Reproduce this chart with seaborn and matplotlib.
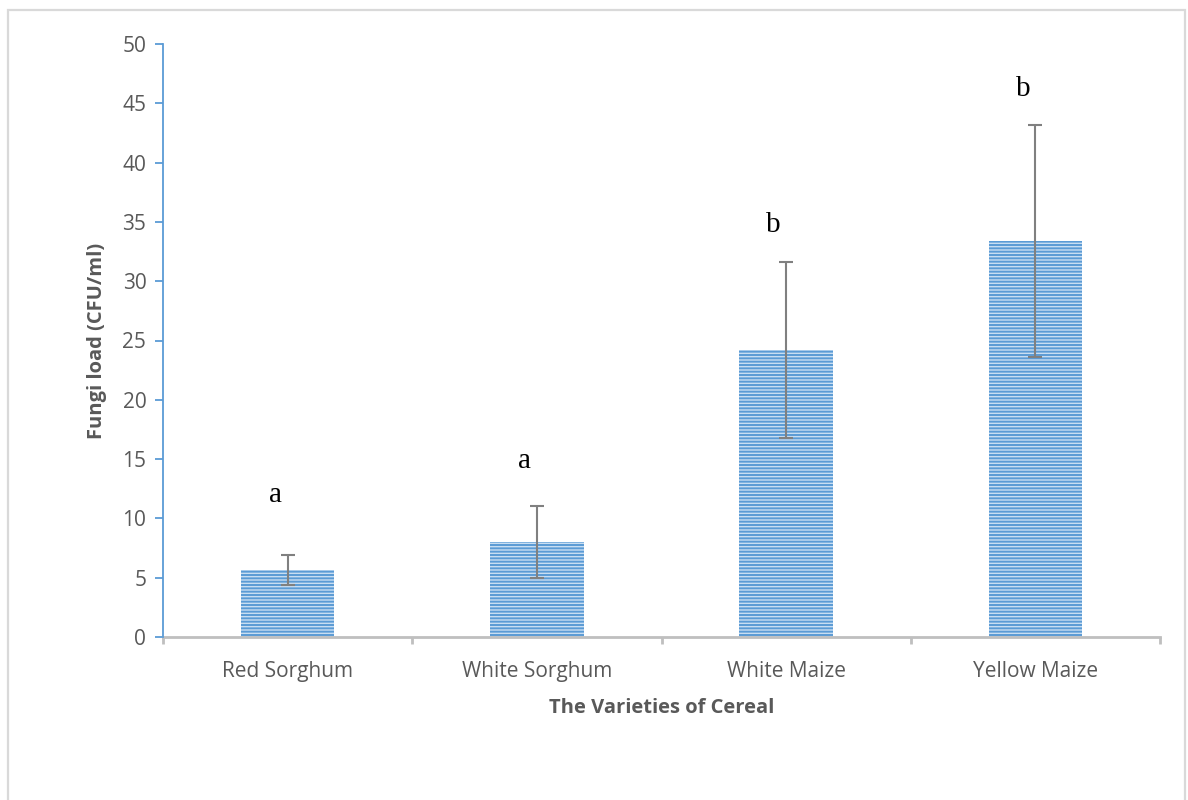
import matplotlib
matplotlib.use("Agg")
import matplotlib.pyplot as plt
import matplotlib.patches as mpatches
import numpy as np
import pandas as pd
import seaborn as sns

# Fungal load per cereal variety (mean, spread) and significance groups
varieties = ["Red Sorghum", "White Sorghum", "White Maize", "Yellow Maize"]
fungi_load = [5.65, 8.0, 24.2, 33.4]
load_error = [1.25, 3.05, 7.4, 9.8]
group_letters = ["a", "a", "b", "b"]
letter_heights = [12.0, 14.8, 34.7, 46.2]
y_ticks = [0, 5, 10, 15, 20, 25, 30, 35, 40, 45, 50]

sns.set_theme(style="white")
plt.rcParams["font.family"] = ["Open Sans", "DejaVu Sans"]
plt.rcParams["hatch.linewidth"] = 1.4
plt.rcParams["hatch.color"] = "#5b9bd5"

TEXT = "#595959"
BLUE = "#5b9bd5"
GREY_AXIS = "#bfbfbf"

df = pd.DataFrame({"Variety": varieties, "Load": fungi_load})

fig = plt.figure(figsize=(11.88, 8.0), dpi=100)
ax = fig.add_axes([163 / 1188, 1 - 637 / 800, (1160 - 163) / 1188, (637 - 44) / 800])

sns.barplot(data=df, x="Variety", y="Load", ax=ax, width=0.375,
            color="#c9def2", errorbar=None, saturation=1)

for patch in ax.patches:
    patch.set_hatch("-----")
    patch.set_edgecolor(BLUE)
    patch.set_linewidth(0)

centers = [p.get_x() + p.get_width() / 2 for p in ax.patches]
ax.errorbar(centers, fungi_load, yerr=load_error, fmt="none",
            ecolor="#808080", elinewidth=1.5, capsize=4.7, capthick=1.5, zorder=3)

for x, h, t in zip(centers, letter_heights, group_letters):
    ax.text(x - 0.05, h, t, ha="center", va="center", fontsize=21,
            family=["Liberation Serif", "DejaVu Serif"], color="black")

ax.set_ylim(0, 50)
ax.set_xlim(-0.5, len(varieties) - 0.5)
ax.set_yticks(y_ticks)
ax.set_yticklabels([str(v) for v in y_ticks])

for side in ("top", "right"):
    ax.spines[side].set_visible(False)
ax.spines["left"].set_color(BLUE)
ax.spines["left"].set_linewidth(1.3)
ax.spines["bottom"].set_color(GREY_AXIS)
ax.spines["bottom"].set_linewidth(2.0)
ax.spines["left"].set_zorder(4)

ax.tick_params(axis="y", which="major", left=True, length=6, width=1.3,
               color=BLUE, labelsize=15, labelcolor=TEXT, pad=6)
ax.tick_params(axis="x", which="major", bottom=False, labelsize=15,
               labelcolor=TEXT, pad=11)
ax.set_xticks(np.arange(-0.5, len(varieties)), minor=True)
ax.tick_params(axis="x", which="minor", bottom=True, length=5, width=2.0,
               color=GREY_AXIS)

ax.set_xlabel("The Varieties of Cereal", fontsize=14.5, fontweight="bold",
              color=TEXT, labelpad=12)
ax.set_ylabel("Fungi load (CFU/ml)", fontsize=14.5, fontweight="bold",
              color=TEXT, labelpad=11)

# light frame around the chart area
fig.patches.append(mpatches.Rectangle((8 / 1188, -0.01), (1185 - 8) / 1188, 1.01 - 10 / 800,
                                      transform=fig.transFigure, fill=False,
                                      edgecolor="#d9d9d9", linewidth=1.6))

fig.savefig("out.png", dpi=100)
